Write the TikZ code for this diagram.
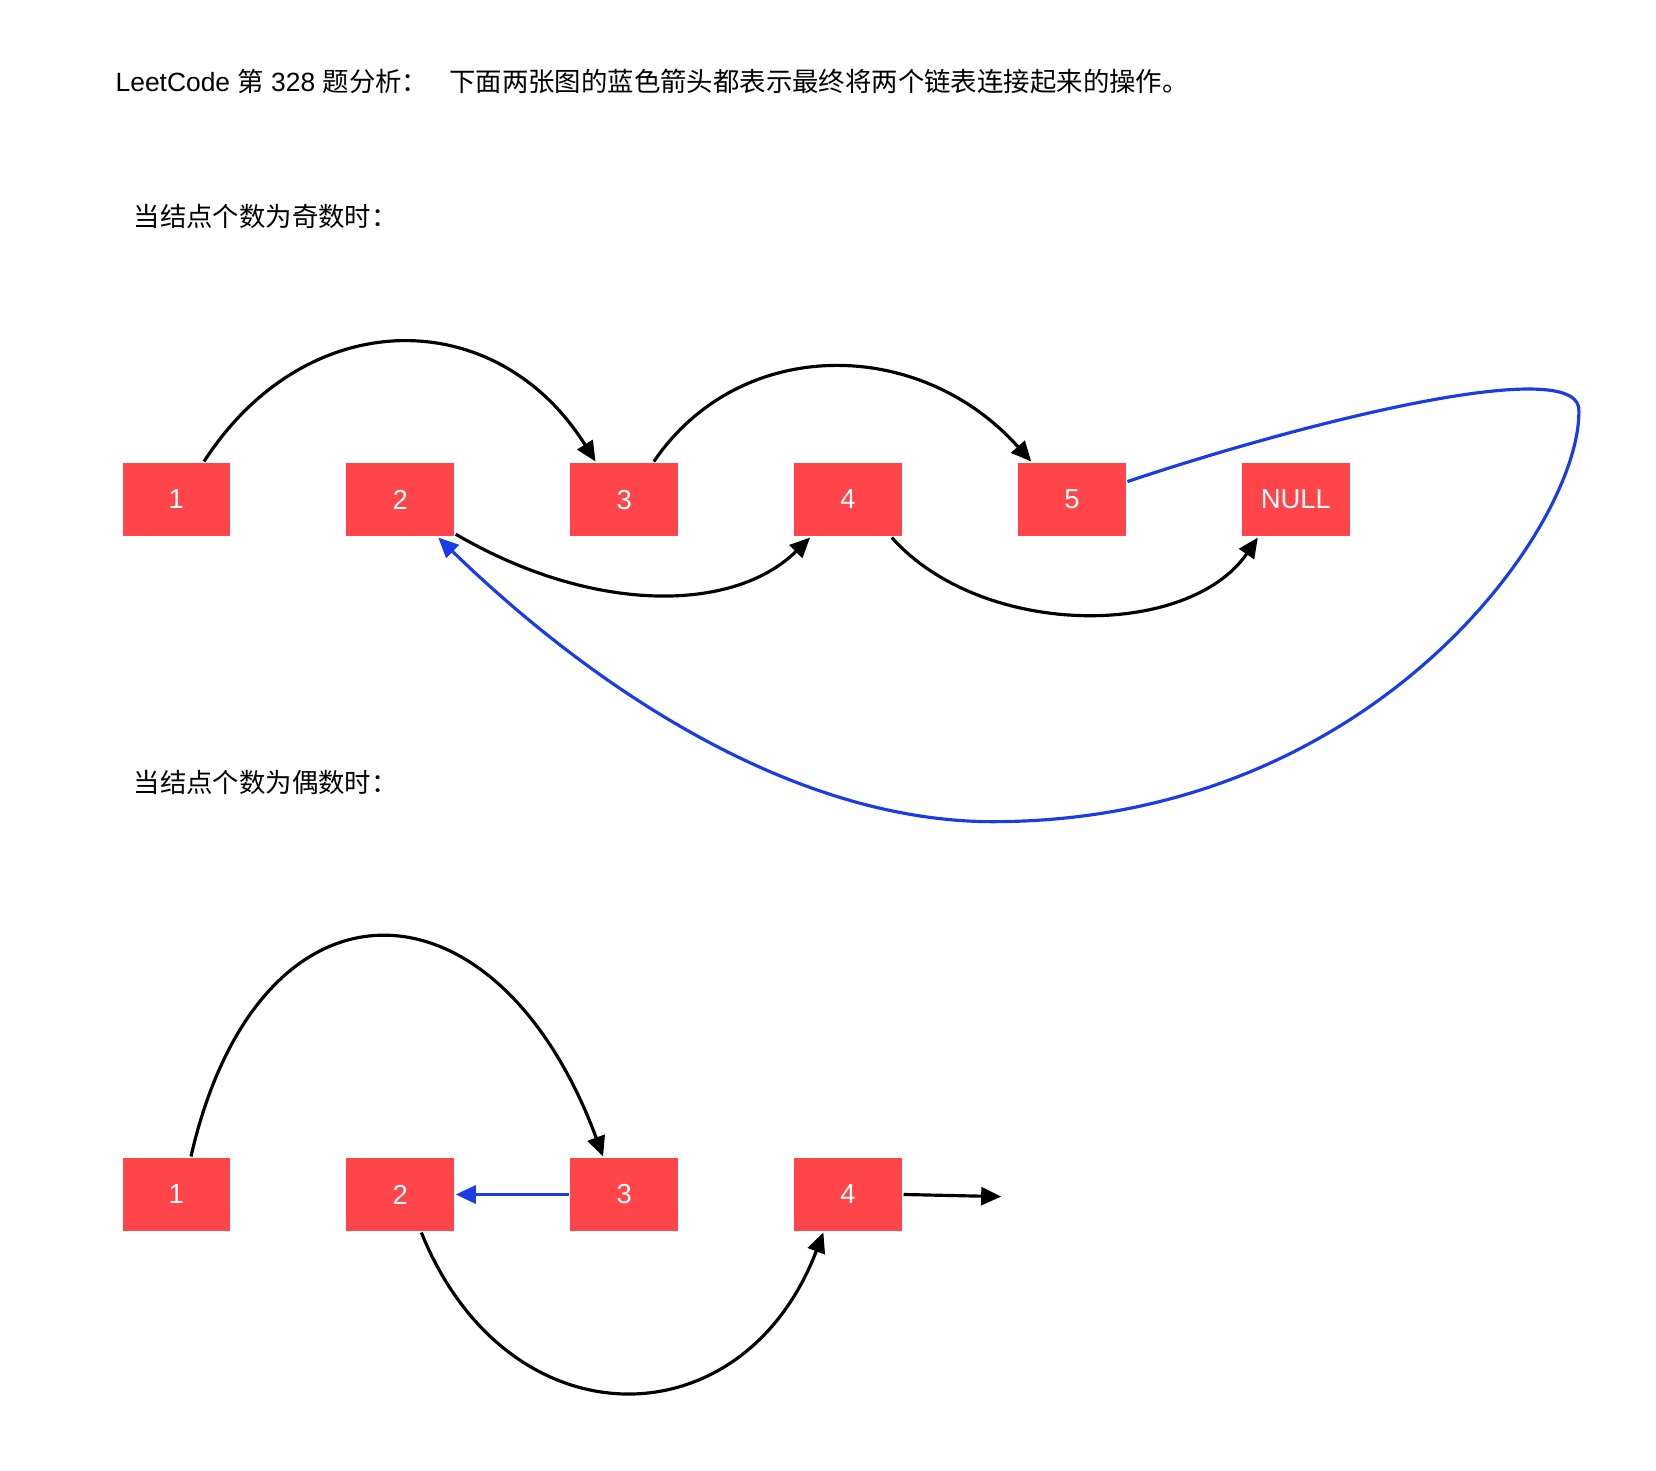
\documentclass[tikz,border=0pt]{standalone}
\usepackage{fontspec}
\setmainfont{Liberation Sans}
\newfontfamily\cjk{Noto Sans CJK SC}
\usepackage{tikz}
\usetikzlibrary{arrows.meta}
\usetikzlibrary{positioning}
\definecolor{nodered}{RGB}{255,69,74}
\definecolor{linkblue}{RGB}{26,60,230}

\begin{document}
\begin{tikzpicture}[x=0.5pt,y=-0.5pt,->,>={Triangle[length=9.5pt,width=8.5pt]},
  line width=1.5pt,node distance=106pt,
  list node/.style={rectangle,fill=nodered,text=white,minimum width=51pt,
    minimum height=34.5pt,inner sep=0pt,font=\fontsize{13}{15}\selectfont},
  note/.style={anchor=west,inner sep=0pt,font=\fontsize{12.5}{15}\selectfont},
  link/.style={draw=linkblue}]
  \useasboundingbox (0,0) rectangle (1568,1392);

  \node[note] (title) at (108,77) {LeetCode {\cjk 第} 328 {\cjk 题分析：}\hspace{10pt}{\cjk 下面两张图的蓝色箭头都表示最终将两个链表连接起来的操作。}};
  \node[note] (odd) at (125,205) {\cjk 当结点个数为奇数时：};
  \node[note] (even) at (125,741) {\cjk 当结点个数为偶数时：};

  % odd number of nodes
  \node[list node] (a1) at (167,473) {1};
  \node[list node] (a2) [right of=a1] {2};
  \node[list node] (a3) [right of=a2] {3};
  \node[list node] (a4) [right of=a3] {4};
  \node[list node] (a5) [right of=a4] {5};
  \node[list node] (a6) [right of=a5] {NULL};

  \draw (a1.54) .. controls (290,287) and (470,287) .. (a3.127);
  \draw (a3.52) .. controls (700,318) and (870,318) .. (a5.137);
  \draw (a2.328) .. controls (560,581) and (694,581) .. (a4.225);
  \draw (a4.319) .. controls (930,605) and (1125,605) .. (a6.225);
  \draw[link] (a5.18) .. controls (1250,395) and (1500,335) .. (1495,390)
    .. controls (1495,500) and (1300,778) .. (940,778)
    .. controls (750,778) and (560,650) .. (a2.315);

  % even number of nodes
  \node[list node] (b1) at (167,1131) {1};
  \node[list node] (b2) [right of=b1] {2};
  \node[list node] (b3) [right of=b2] {3};
  \node[list node] (b4) [right of=b3] {4};
  \coordinate (tail) at (948,1133);

  \draw (b1.69) .. controls (245,815) and (470,822) .. (b3.119);
  \draw (b2.299) .. controls (480,1368) and (703,1368) .. (b4.237);
  \draw[link] (b3.west) -- (b2.east);
  \draw (b4.east) -- (tail);
\end{tikzpicture}
\end{document}
